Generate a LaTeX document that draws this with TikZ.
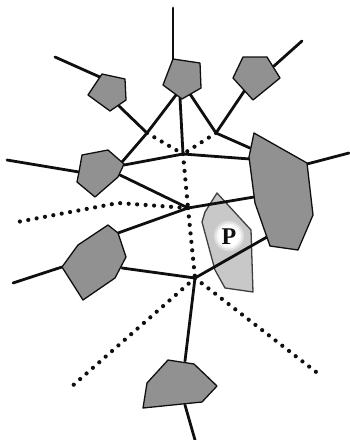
\documentclass[tikz,border=0pt]{standalone}
\usepackage{fontspec}
\newfontfamily\labelfont{Liberation Serif}
\usetikzlibrary{calc}
\definecolor{siteFill}{RGB}{145,145,145}
\definecolor{queryFill}{RGB}{200,200,200}
\definecolor{inkDark}{RGB}{15,15,15}
\tikzset{
  edgeline/.style={line width=2.8pt, draw=inkDark, line cap=round},
  dotline/.style={line width=4.2pt, draw=inkDark, line cap=round, dash pattern=on 0pt off 8.5pt},
  sitepoly/.style={fill=siteFill, draw=inkDark, line width=1.3pt, line join=round},
  querypoly/.style={fill=queryFill, draw=inkDark!80, line width=1.3pt, line join=round}
}
\begin{document}
\begin{tikzpicture}[x=1pt,y=-1pt]
\useasboundingbox (0,0) rectangle (349,440);

% Voronoi vertices
\coordinate (A) at (147,133);
\coordinate (B) at (216,133);
\coordinate (C) at (183,154);
\coordinate (D) at (188,208);
\coordinate (E) at (195,278);

% free ends of the outer edges
\coordinate (top) at (173,8);
\coordinate (nw) at (55,57);
\coordinate (ne) at (302,41);
\coordinate (w1) at (7,160);
\coordinate (w2) at (13,283);
\coordinate (east) at (349,153);
\coordinate (south) at (195,440);
\coordinate (dw) at (12,223);
\coordinate (dbend) at (118,203);
\coordinate (dsw) at (70,388);
\coordinate (dse) at (320,375);

% attachment points on the sites
\coordinate (Ttop) at (173,60);
\coordinate (Tbl) at (176,95);
\coordinate (Tb) at (180,98);
\coordinate (Tbr) at (190,94);
\coordinate (Sin) at (102,78);
\coordinate (Sout) at (119,106);
\coordinate (Rin) at (274,66);
\coordinate (Rout) at (245,90);
\coordinate (Mw) at (79,172);
\coordinate (Mne) at (122,162);
\coordinate (Me) at (124,165);
\coordinate (Mse) at (120,175);
\coordinate (Lw) at (62,267);
\coordinate (Lne) at (118,233);
\coordinate (Le) at (122,268);
\coordinate (Btop) at (185,361);
\coordinate (Bbot) at (185,405);
\coordinate (Ge) at (307,164);
\coordinate (Gb) at (250,148);
\coordinate (Gc) at (250,159);
\coordinate (Gd) at (254,197);
\coordinate (Ge2) at (267,237);

% query region P
\draw[querypoly] (217,193) -- (251,230) -- (253,292) -- (225,288) -- (215,270)
  -- (202,222) -- (205,212) -- cycle;
\foreach \r/\o in {15.5/0.25,14/0.4,12.5/0.6,11/0.85,9.5/1}
  \fill[white, opacity=\o] (229,236) circle[radius=\r];
\node[font=\labelfont\bfseries\fontsize{24}{24}\selectfont, text=inkDark, inner sep=0pt] (plabel) at (229,237) {P};

% dotted Voronoi edges
\draw[dotline] (A) -- (C);
\draw[dotline] (B) -- (C);
\draw[dotline] (C) -- (D);
\draw[dotline] (D) -- (dbend) -- (dw);
\draw[dotline] (D) -- (E);
\draw[dotline] (E) -- (dsw);
\draw[dotline] (E) -- (dse);

% solid edges
\draw[edgeline] (top) -- (Ttop);
\draw[edgeline] (nw) -- (Sin);
\draw[edgeline] (ne) -- (Rin);
\draw[edgeline] (w1) -- (Mw);
\draw[edgeline] (w2) -- (Lw);
\draw[edgeline] (Ge) -- (east);
\draw[edgeline] (Bbot) -- (south);
\draw[edgeline] (Sout) -- (A);
\draw[edgeline] (Tbl) -- (A) -- (Mne);
\draw[edgeline] (Tb) -- (C);
\draw[edgeline] (Tbr) -- (B) -- (Gb);
\draw[edgeline] (Rout) -- (B);
\draw[edgeline] (Me) -- (C) -- (Gc);
\draw[edgeline] (Mse) -- (D) -- (Gd);
\draw[edgeline] (D) -- (Lne);
\draw[edgeline] (Le) -- (E) -- (Ge2);
\draw[edgeline] (E) -- (Btop);

% sites
\draw[sitepoly] (173,59) -- (200,63) -- (201,88) -- (182,99) -- (163,85) -- cycle;
\draw[sitepoly] (102,74) -- (125,79) -- (126,100) -- (110,111) -- (88,95) -- cycle;
\draw[sitepoly] (243,57) -- (267,57) -- (280,78) -- (253,100) -- (233,78) -- cycle;
\draw[sitepoly] (82,155) -- (108,150) -- (124,164) -- (118,177) -- (95,197) -- (77,182) -- (79,172) -- cycle;
\draw[sitepoly] (108,225) -- (118,233) -- (126,257) -- (115,278) -- (83,300) -- (62,267) -- (78,245) -- cycle;
\draw[sitepoly] (168,360) -- (194,364) -- (217,386) -- (202,402) -- (143,408) -- (147,383) -- cycle;
\draw[sitepoly] (254,133) -- (307,163) -- (313,215) -- (298,250) -- (270,246) -- (255,203) -- (249,157) -- cycle;
\end{tikzpicture}
\end{document}
